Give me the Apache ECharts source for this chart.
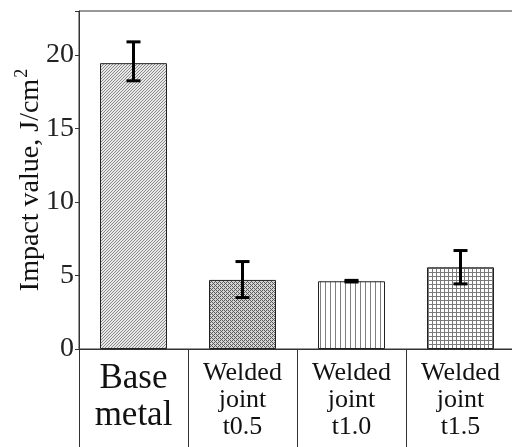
<!DOCTYPE html>
<html>
<head>
<meta charset="utf-8">
<script src="https://cdn.jsdelivr.net/npm/echarts@6/dist/echarts.min.js"></script>
<style>html,body{margin:0;padding:0;background:#fff}#c{width:512px;height:447px}</style>
</head>
<body>
<div id="c"></div>
<script>
const categories = ['Base\nmetal', 'Welded\njoint\nt0.5', 'Welded\njoint\nt1.0', 'Welded\njoint\nt1.5'];
const values = [19.45, 4.70, 4.61, 5.56];
const errLow = [18.25, 3.50, 4.56, 4.43];
const errHigh = [20.90, 5.95, 4.67, 6.70];
const yTicks = [0, 5, 10, 15, 20];

function tile(w, h, bg, fg, fn) {
  const c = document.createElement('canvas');
  c.width = w; c.height = h;
  const g = c.getContext('2d');
  g.fillStyle = bg; g.fillRect(0, 0, w, h);
  g.fillStyle = fg;
  for (let y = 0; y < h; y++) for (let x = 0; x < w; x++) if (fn(x, y)) g.fillRect(x, y, 1, 1);
  return c;
}
const patterns = [
  tile(3, 3, '#e8e8e8', '#8a8a8a', (x, y) => (x + y) % 3 === 2),
  tile(4, 4, '#d4d4d4', '#5a5a5a', (x, y) => (x + y) % 4 === 0 || ((x - y + 4) % 4) === 2),
  tile(5, 5, '#ffffff', '#808080', (x, y) => x === 0),
  tile(4, 4, '#ffffff', '#7a7a7a', (x, y) => x === 0 || y === 0)
];

const chart = echarts.init(document.getElementById('c'), null, {renderer: 'canvas'});
const font = 'Liberation Serif';
chart.setOption({
  animation: false,
  grid: {left: 79, right: -3, top: 11, bottom: 98, show: true, borderColor: '#333', borderWidth: 1, containLabel: false, outerBoundsMode: 'none'},
  xAxis: {
    type: 'category',
    data: categories,
    boundaryGap: true,
    axisLine: {lineStyle: {color: '#333', width: 1}},
    axisTick: {show: true, length: 100, interval: 0, lineStyle: {color: '#333', width: 1}},
    axisLabel: {
      interval: 0, margin: 11, fontFamily: font, color: '#111',
      formatter: function (v, i) { return i === 0 ? '{b|' + v.replace('\n', '}\n{b|') + '}' : '{w|' + v.split('\n').join('}\n{w|') + '}'; },
      rich: {
        b: {fontFamily: font, fontSize: 35, lineHeight: 37, color: '#111'},
        w: {fontFamily: font, fontSize: 26, lineHeight: 27, color: '#111'}
      }
    }
  },
  yAxis: {
    type: 'value', min: 0, max: 23, interval: 5,
    name: '{a|Impact value, J/cm}{s|2}',
    nameLocation: 'middle', nameGap: 34, nameRotate: 90, nameMoveOverlap: false,
    nameTextStyle: {
      rich: {
        a: {fontFamily: font, fontSize: 28, color: '#111', lineHeight: 30, verticalAlign: 'bottom'},
        s: {fontFamily: font, fontSize: 18, color: '#111', lineHeight: 30, verticalAlign: 'bottom', padding: [0, 0, 14, 1]}
      }
    },
    axisLine: {show: true, lineStyle: {color: '#333', width: 1}},
    axisTick: {show: true, length: 4, lineStyle: {color: '#333'}},
    splitLine: {show: false},
    axisLabel: {
      margin: 5, fontFamily: font, fontSize: 28, color: '#222',
      formatter: function (v) { return yTicks.indexOf(v) >= 0 ? String(v) : ''; }
    }
  },
  series: [
    {
      type: 'bar', barWidth: 67,
      data: values.map((v, i) => ({value: v, itemStyle: {color: {image: patterns[i], repeat: 'repeat'}, borderColor: '#222', borderWidth: 1}}))
    },
    {
      type: 'custom',
      data: errLow.map((lo, i) => [i, lo, errHigh[i]]),
      encode: {x: 0, y: [1, 2]},
      renderItem: function (params, api) {
        const i = api.value(0);
        const lo = api.coord([i, api.value(1)]);
        const hi = api.coord([i, api.value(2)]);
        const hw = 7;
        const st = {stroke: '#000', lineWidth: 3};
        return {
          type: 'group',
          children: [
            {type: 'line', shape: {x1: lo[0], y1: lo[1], x2: hi[0], y2: hi[1]}, style: st},
            {type: 'line', shape: {x1: lo[0] - hw, y1: lo[1], x2: lo[0] + hw, y2: lo[1]}, style: st},
            {type: 'line', shape: {x1: hi[0] - hw, y1: hi[1], x2: hi[0] + hw, y2: hi[1]}, style: st}
          ]
        };
      },
      z: 10
    }
  ]
});
</script>
</body>
</html>
